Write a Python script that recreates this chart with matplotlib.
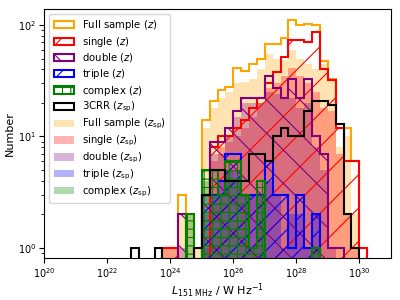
import matplotlib
matplotlib.use('Agg')
import matplotlib.pyplot as plt
import numpy as np

plt.rcParams['hatch.linewidth'] = 0.8

# log10 bin edges, 0.25 dex
log_edges = np.linspace(22.75, 30.25, 31)
edges = 10**log_edges
centres = 10**(0.5*(log_edges[1:] + log_edges[:-1]))

# counts per bin, redshift z
full_z    = [0,0,0,0,1,1,3,2,1,14,21,26,28,41,39,45,50,68,68,76,110,100,101,100,47,33,12,12,6,1]
single_z  = [0,0,0,0,1,1,0,0,0,0,8,10,10,12,14,18,22,30,38,52,74,74,71,87,40,32,12,6,6,1]
double_z  = [0,0,0,0,0,0,2,0,0,3,9,9,12,17,22,22,22,35,27,22,33,22,33,10,7,1,1,0,0,0]
triple_z  = [0,0,0,0,0,0,0,0,0,3,3,4,7,7,3,3,3,6,3,3,1,3,1,2,0,0,0,0,0,0]
complex_z = [0,0,0,0,0,0,0,2,0,5,5,3,6,6,3,1,4,0,0,0,0,0,0,1,0,0,0,0,0,0]
crr_zsp   = [1,0,0,1,0,0,0,0,1,3,5,5,4,4,4,7,7,6,10,12,10,10,17,21,21,19,13,2,1,0]

# counts per bin, spectroscopic redshift z_sp
full_sp    = [0,0,0,0,1,1,2,2,1,12,18,22,25,30,31,33,40,55,50,48,60,50,45,40,45,33,8,10,2,0]
single_sp  = [0,0,0,0,1,1,0,0,0,1,6,8,9,10,12,15,20,27,30,35,41,35,30,25,18,17,7,2,1,0]
double_sp  = [0,0,0,0,0,0,1,0,0,2,7,7,10,15,20,20,20,25,24,22,22,18,20,8,5,1,0,0,0,0]
triple_sp  = [0,0,0,0,0,0,0,0,0,3,3,4,5,5,3,3,3,4,3,1,2,2,1,2,0,0,0,0,0,0]
complex_sp = [0,0,0,0,0,0,0,2,0,4,3,3,5,4,3,1,3,0,0,0,0,0,0,1,0,0,0,0,0,0]

fig = plt.figure(figsize=(4, 3), dpi=100)
ax = fig.add_axes([0.111, 0.139, 0.866, 0.830])

lw = 1.5
ax.hist(centres, bins=edges, weights=full_z, histtype='step', color='orange', lw=lw, log=True, label='Full sample ($z$)')
ax.hist(centres, bins=edges, weights=single_z, histtype='step', color='red', lw=lw, hatch='/', log=True, label='single ($z$)')
ax.hist(centres, bins=edges, weights=double_z, histtype='step', color='purple', lw=lw, hatch='\\', log=True, label='double ($z$)')
ax.hist(centres, bins=edges, weights=triple_z, histtype='step', color='blue', lw=lw, hatch='//', log=True, label='triple ($z$)')
ax.hist(centres, bins=edges, weights=complex_z, histtype='step', color='green', lw=lw, hatch='++', log=True, label='complex ($z$)')
ax.hist(centres, bins=edges, weights=crr_zsp, histtype='step', color='black', lw=lw, log=True, label=r'3CRR ($z_{\rm sp}$)')

ax.hist(centres, bins=edges, weights=full_sp, histtype='stepfilled', color='orange', alpha=0.3, log=True, label=r'Full sample ($z_{\rm sp}$)')
ax.hist(centres, bins=edges, weights=single_sp, histtype='stepfilled', color='red', alpha=0.3, log=True, label=r'single ($z_{\rm sp}$)')
ax.hist(centres, bins=edges, weights=double_sp, histtype='stepfilled', color='purple', alpha=0.3, log=True, label=r'double ($z_{\rm sp}$)')
ax.hist(centres, bins=edges, weights=triple_sp, histtype='stepfilled', color='blue', alpha=0.3, log=True, label=r'triple ($z_{\rm sp}$)')
ax.hist(centres, bins=edges, weights=complex_sp, histtype='stepfilled', color='green', alpha=0.3, log=True, label=r'complex ($z_{\rm sp}$)')

ax.set_xscale('log')
ax.set_xlim(1e20, 1e31)
ax.set_ylim(0.81, 138)
ax.set_xticks([1e20, 1e22, 1e24, 1e26, 1e28, 1e30])
ax.tick_params(labelsize=7, pad=2.5)
ax.set_xlabel(r'$L_{\rm 151\ MHz}$ / W Hz$^{-1}$', fontsize=8, labelpad=1)
ax.set_ylabel('Number', fontsize=8, labelpad=2)
ax.legend(loc='upper left', fontsize=7.3, labelspacing=0.25)

fig.savefig('out.png', dpi=100)
